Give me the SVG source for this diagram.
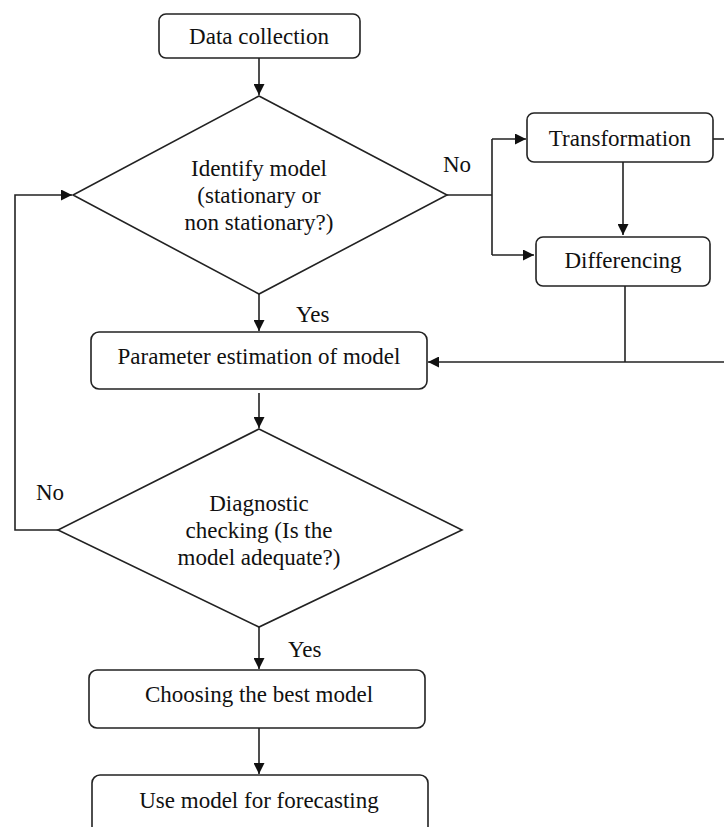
<svg xmlns="http://www.w3.org/2000/svg" width="724" height="827" viewBox="0 0 724 827">
<style>
.box{fill:#fff;stroke:#222;stroke-width:1.6}
.dia{fill:#fff;stroke:#222;stroke-width:1.6}
.ln{fill:none;stroke:#222;stroke-width:1.6}
.t{font-size:23px;fill:#111;text-anchor:middle}
.lbl{font-size:23px;fill:#111;text-anchor:start}
</style>
<defs>
<marker id="ah" viewBox="0 0 10 10" refX="10" refY="5" markerWidth="11" markerHeight="11" markerUnits="userSpaceOnUse" orient="auto">
<path d="M0,0 L10,5 L0,10 Z" fill="#111"/>
</marker>
</defs>
<rect width="724" height="827" fill="#fff"/>
<g id="connectors">
<line class="ln" x1="259" y1="58" x2="259" y2="95" marker-end="url(#ah)"/>
<polyline class="ln" points="447,195 492,195"/>
<polyline class="ln" points="492,139 492,255"/>
<line class="ln" x1="492" y1="139" x2="526" y2="139" marker-end="url(#ah)"/>
<line class="ln" x1="492" y1="255" x2="534" y2="255" marker-end="url(#ah)"/>
<line class="ln" x1="713" y1="139" x2="724" y2="139"/>
<line class="ln" x1="623" y1="162" x2="623" y2="235" marker-end="url(#ah)"/>
<polyline class="ln" points="625,286 625,362"/>
<line class="ln" x1="724" y1="362" x2="428" y2="362" marker-end="url(#ah)"/>
<line class="ln" x1="259" y1="294" x2="259" y2="331" marker-end="url(#ah)"/>
<line class="ln" x1="259" y1="393" x2="259" y2="428" marker-end="url(#ah)"/>
<polyline class="ln" points="58,530 15,530 15,195 72,195" marker-end="url(#ah)"/>
<line class="ln" x1="259" y1="627" x2="259" y2="669" marker-end="url(#ah)"/>
<line class="ln" x1="259" y1="728" x2="259" y2="774" marker-end="url(#ah)"/>
</g>
<g font-family="'Liberation Serif', 'DejaVu Serif', 'Noto Serif', Times, serif">
<g id="data-collection">
<rect class="box" x="159" y="14" width="201" height="44" rx="7"/>
<text class="t" x="259" y="44">Data collection</text>
</g>
<g id="identify-model">
<polygon class="dia" points="259,96 447,195 259,294 73,195"/>
<text class="t" x="259" y="176">Identify model</text>
<text class="t" x="259" y="203">(stationary or</text>
<text class="t" x="259" y="230">non stationary?)</text>
</g>
<g id="label-no-1"><text class="lbl" x="443" y="172">No</text></g>
<g id="label-yes-1"><text class="lbl" x="296" y="322">Yes</text></g>
<g id="transformation">
<rect class="box" x="527" y="113" width="186" height="49" rx="7"/>
<text class="t" x="620" y="146">Transformation</text>
</g>
<g id="differencing">
<rect class="box" x="536" y="237" width="174" height="49" rx="7"/>
<text class="t" x="623" y="268">Differencing</text>
</g>
<g id="parameter-estimation">
<rect class="box" x="91" y="332" width="336" height="57" rx="8"/>
<text class="t" x="259" y="364">Parameter estimation of model</text>
</g>
<g id="diagnostic-checking">
<polygon class="dia" points="259,429 462,530 259,627 58,530"/>
<text class="t" x="259" y="511">Diagnostic</text>
<text class="t" x="259" y="538">checking (Is the</text>
<text class="t" x="259" y="565">model adequate?)</text>
</g>
<g id="label-no-2"><text class="lbl" x="36" y="500">No</text></g>
<g id="label-yes-2"><text class="lbl" x="288" y="657">Yes</text></g>
<g id="choosing-best">
<rect class="box" x="89" y="670" width="336" height="58" rx="8"/>
<text class="t" x="259" y="702">Choosing the best model</text>
</g>
<g id="use-model">
<rect class="box" x="92" y="775" width="336" height="70" rx="8"/>
<text class="t" x="259" y="808">Use model for forecasting</text>
</g>
</g>
</svg>
